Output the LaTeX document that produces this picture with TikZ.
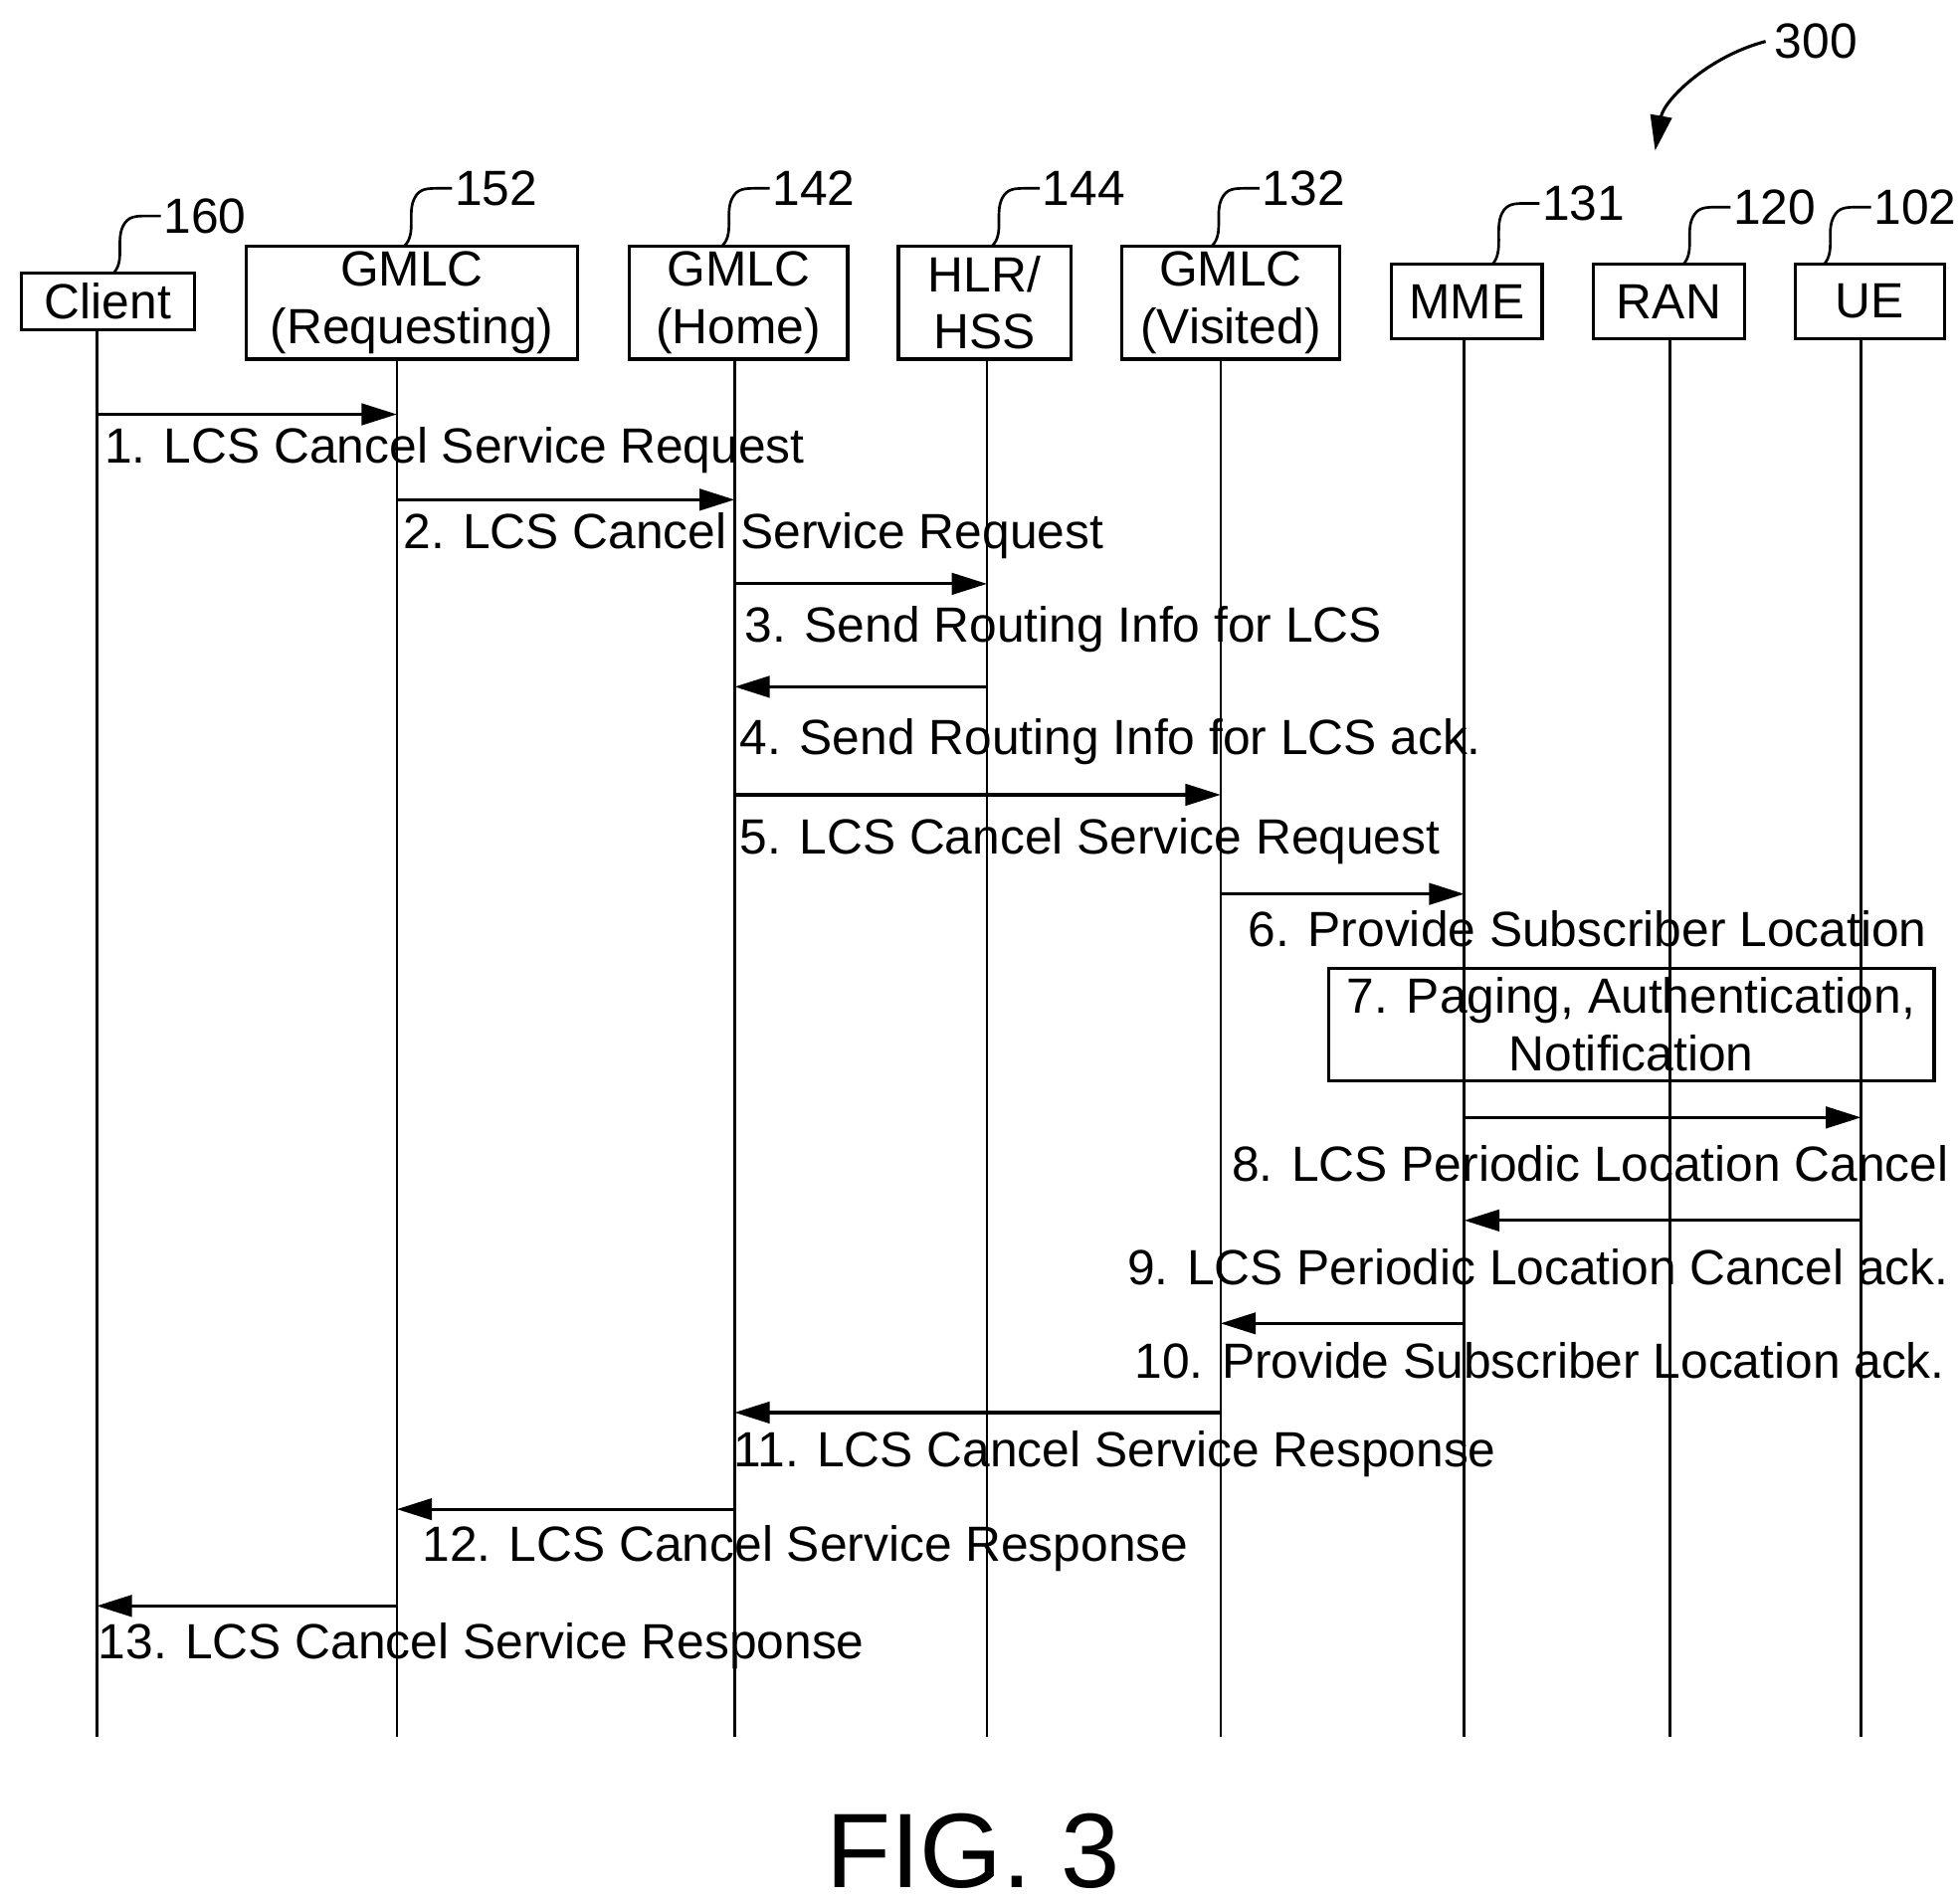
\documentclass[tikz,border=0pt]{standalone}
\usepackage{fontspec}
\setmainfont{Liberation Sans}
\usetikzlibrary{arrows.meta}
\begin{document}
\begin{tikzpicture}[x=0.01cm,y=-0.01cm,line width=0.7pt,
  box/.style={draw,inner sep=0,align=center,font=\fontsize{11.2}{13}\selectfont},
  lbl/.style={inner sep=0,anchor=west,font=\fontsize{11.2}{13}\selectfont},
  num/.style={inner sep=0,anchor=west,font=\fontsize{11.2}{13}\selectfont},
  msg/.style={-{Triangle[length=0.28cm,width=0.17cm]}},
  life/.style={line width=0.6pt}]
\useasboundingbox (0,0) rectangle (1560,1516);
% boxes
\node[box,minimum width=1.38cm,minimum height=0.45cm] (cl) at (86,240) {Client};
\node[box,minimum width=2.63cm,minimum height=0.9cm] (gr) at (328,241) {GMLC\\(Requesting)};
\node[box,minimum width=1.74cm,minimum height=0.9cm] (gh) at (588,241) {GMLC\\(Home)};
\node[box,minimum width=1.37cm,minimum height=0.9cm] (hl) at (784,241) {HLR/\\HSS};
\node[box,minimum width=1.74cm,minimum height=0.9cm] (gv) at (980,241) {GMLC\\(Visited)};
\node[box,minimum width=1.2cm,minimum height=0.59cm] (mm) at (1168,240) {MME};
\node[box,minimum width=1.2cm,minimum height=0.59cm] (ra) at (1329,240) {RAN};
\node[box,minimum width=1.19cm,minimum height=0.59cm] (ue) at (1489,240) {UE};
% lifelines
\foreach \n/\x/\t in {a/77/263,b/316/286,c/585/286,d/786/286,e/972/286,f/1166/270,g/1330/270,h/1482/270}{
  \coordinate (\n0) at (\x,\t); \coordinate (\n1) at (\x,1383);
  \draw[life] (\n0) -- (\n1);}
% reference numbers
\foreach \x/\t/\y/\lab in {90/218/172/160,322/196/150/152,575/196/150/142,790/196/150/144,965/196/150/132,1188/211/162/131,1340/211/165/120,1452/211/165/102}{
  \draw[life] (\x,\t) .. controls (\x+10,\t-10) and (\x+2,\y+20) .. (\x+8,\y+8) .. controls (\x+12,\y) and (\x+18,\y) .. (\x+28,\y) -- (\x+38,\y);
  \node[num] at (\x+39,\y) {\lab};}
\node[num] (n300) at (1412,33) {300};
\coordinate (c300) at (1318,120);
\draw[msg] (1406,33) .. controls (1360,45) and (1325,80) .. (c300);
% messages
\newcommand{\msgline}[4]{\coordinate (s#1) at (#2,#4); \coordinate (t#1) at (#3,#4); \draw[msg] (s#1) -- (t#1);}
\msgline{1}{77}{316}{330} \node[lbl] (l1) at (82,359) {1. LCS Cancel Service Request};
\msgline{2}{316}{585}{398} \node[lbl] (l2) at (320,427) {2. LCS Cancel Service Request};
\msgline{3}{585}{786}{465} \node[lbl] (l3) at (592,501) {3. Send Routing Info for LCS};
\msgline{4}{786}{585}{547} \node[lbl] (l4) at (588,591) {4. Send Routing Info for LCS ack.};
\msgline{5}{585}{972}{633} \node[lbl] (l5) at (588,670) {5. LCS Cancel Service Request};
\msgline{6}{972}{1166}{712} \node[lbl] (l6) at (993,740) {6. Provide Subscriber Location};
\node[box,minimum width=4.82cm,minimum height=0.9cm] (p7) at (1299,816) {7. Paging, Authentication,\\Notification};
\msgline{8}{1166}{1482}{890} \node[lbl,anchor=east] (l8) at (1553,927) {8. LCS Periodic Location Cancel};
\msgline{9}{1482}{1166}{972} \node[lbl,anchor=east] (l9) at (1553,1009) {9. LCS Periodic Location Cancel ack.};
\msgline{10}{1166}{972}{1054} \node[lbl,anchor=east] (l10) at (1550,1084) {10. Provide Subscriber Location ack.};
\msgline{11}{972}{585}{1125} \node[lbl] (l11) at (583,1158) {11. LCS Cancel Service Response};
\msgline{12}{585}{316}{1202} \node[lbl] (l12) at (335,1233) {12. LCS Cancel Service Response};
\msgline{13}{316}{77}{1279} \node[lbl] (l13) at (77,1311) {13. LCS Cancel Service Response};
\node[inner sep=0,font=\fontsize{24}{28}\selectfont] (fig) at (775,1474) {FIG. 3};
\end{tikzpicture}
\end{document}
